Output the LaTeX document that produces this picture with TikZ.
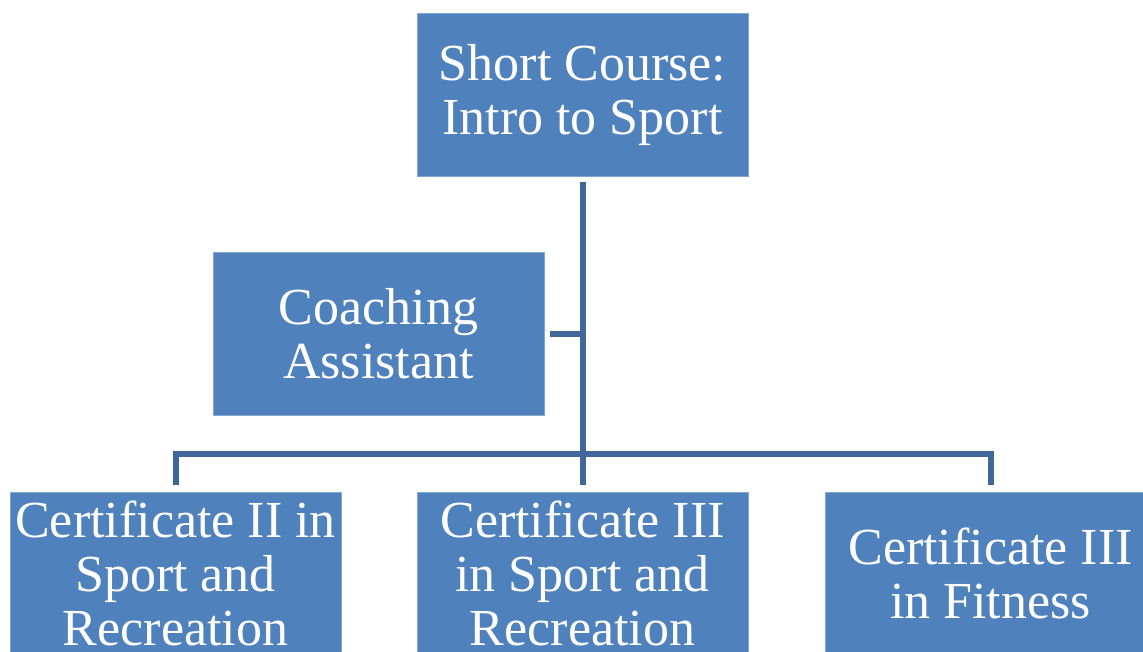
\documentclass[tikz,border=0pt]{standalone}
\usepackage{fontspec}
\setmainfont{Liberation Serif}
\definecolor{boxblue}{HTML}{4F81BD}
\definecolor{lineblue}{HTML}{41679A}
\begin{document}
\begin{tikzpicture}[x=1pt,y=-1pt,
  card/.style={fill=boxblue, draw=boxblue!70!white, line width=0.8pt,
    minimum width=331pt, minimum height=163pt, inner sep=0pt,
    align=center, text=white, font=\fontsize{52}{54}\selectfont},
  conn/.style={draw=lineblue, line width=6pt}]
\useasboundingbox (0,0) rectangle (1143,651);
\clip (0,0) rectangle (1143,651);
\node[card] (top) at (582.5,94.5) {Short Course:\\Intro to Sport};
\node[card] (coach) at (378.5,333.5) {Coaching\\Assistant};
\node[card] (c2) at (175.5,573.5) {Certificate II in\\Sport and\\Recreation};
\node[card] (c3) at (582.5,573.5) {Certificate III\\in Sport and\\Recreation};
\node[card] (fit) at (990.5,573.5) {Certificate III\\in Fitness};
\coordinate (bus) at (582.5,454);
\draw[conn, shorten <=6pt] (top.south) -- (top.south |- bus);
\draw[conn, shorten <=6pt] (coach.east) -- (coach.east -| top.south);
\draw[conn, shorten <=7pt, shorten >=7pt] (c2.north) -- (c2.north |- bus) -- (fit.north |- bus) -- (fit.north);
\draw[conn, shorten >=7pt] (bus) -- (c3.north);
\end{tikzpicture}
\end{document}
